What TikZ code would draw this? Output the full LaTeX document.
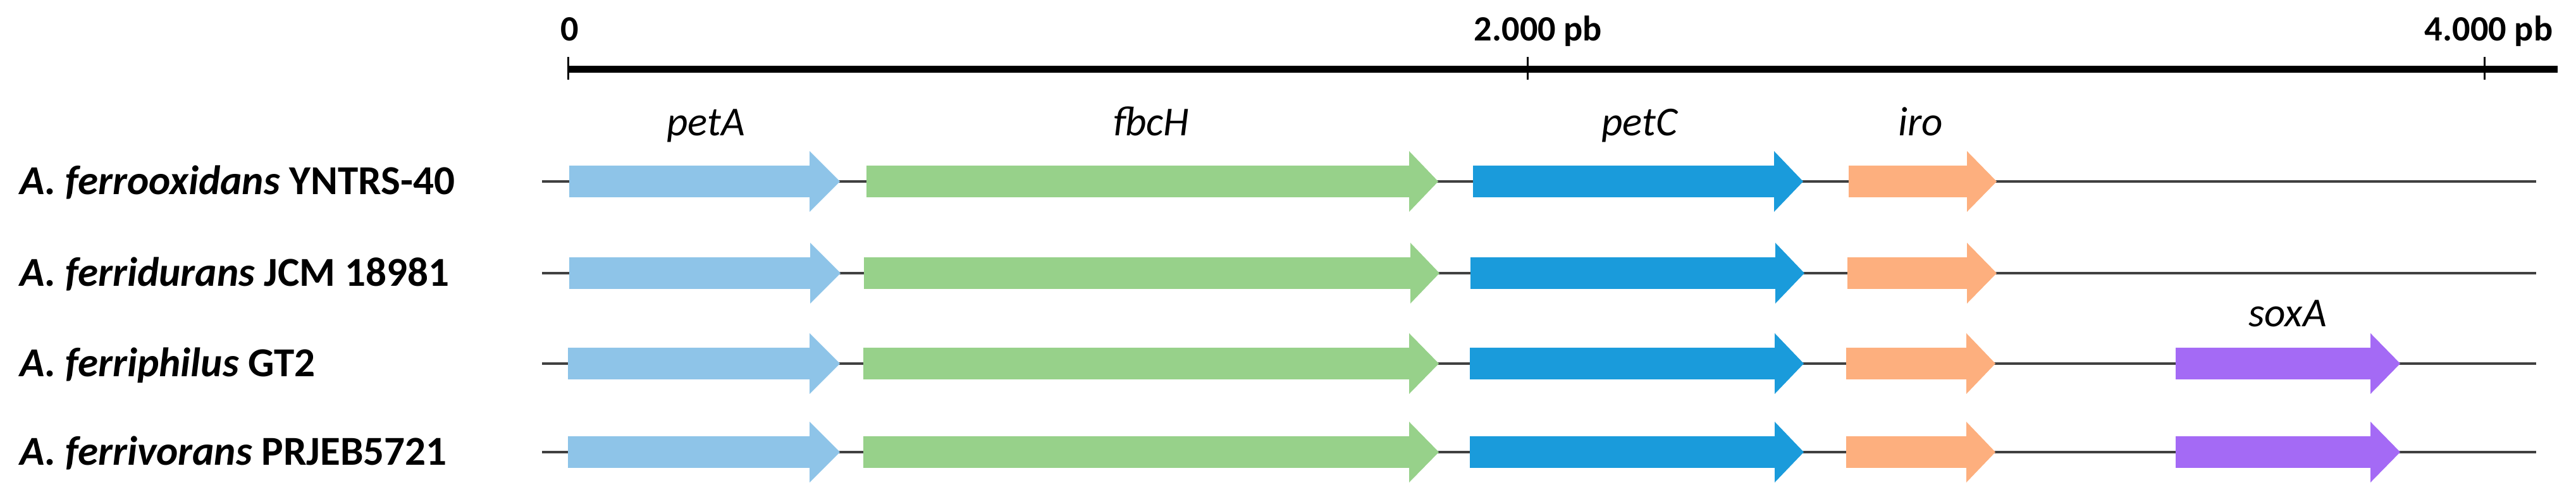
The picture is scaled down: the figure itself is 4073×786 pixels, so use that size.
\documentclass[tikz,border=0pt]{standalone}
\usepackage{fontspec}
\setmainfont{Carlito}
\definecolor{cpetA}{HTML}{8EC4E8}
\definecolor{cfbcH}{HTML}{97D18A}
\definecolor{cpetC}{HTML}{1A9BDB}
\definecolor{ciro}{HTML}{FDAF7E}
\definecolor{csoxA}{HTML}{A46AF5}
\definecolor{cline}{HTML}{404040}
\newcommand{\genearr}[5]{% x0, xbase, xtip, y, colour
  \fill[#5] (#1,#4-25) -- (#2,#4-25) -- (#2,#4-48) -- (#3,#4) -- (#2,#4+48) -- (#2,#4+25) -- (#1,#4+25) -- cycle;}
\begin{document}
\begin{tikzpicture}[x=0.01cm,y=-0.01cm,
  rowlabel/.style={anchor=base west,inner sep=0pt,font=\fontsize{18.5}{22}\selectfont\bfseries},
  genelabel/.style={anchor=base,inner sep=0pt,font=\fontsize{18.5}{22}\selectfont\itshape},
  scalelabel/.style={anchor=base,inner sep=0pt,font=\fontsize{16}{19}\selectfont\bfseries},
  backbone/.style={draw=cline,line width=1pt},
  scalebar/.style={line width=3.1pt},
  scaletick/.style={line width=0.85pt}]
\useasboundingbox (0,0) rectangle (4073,786);
% scale bar
\coordinate (s0) at (898,109.5);
\coordinate (send) at (4044,109.5);
\draw[scalebar] (s0) -- (send);
\coordinate (t0a) at (898,90); \coordinate (t0b) at (898,126);
\coordinate (t2a) at (2415,90); \coordinate (t2b) at (2415,126);
\coordinate (t4a) at (3928,90); \coordinate (t4b) at (3928,126);
\draw[scaletick] (t0a) -- (t0b);
\draw[scaletick] (t2a) -- (t2b);
\draw[scaletick] (t4a) -- (t4b);
\node[scalelabel] (l0) at (901,65) {0};
\node[scalelabel] (l2) at (2432,65) {2.000 pb};
\node[scalelabel] (l4) at (3935,65) {4.000 pb};
% backbones
\foreach \y/\n in {287/1,432/2,575/3,715/4}{
  \coordinate (b\n a) at (857,\y);
  \coordinate (b\n b) at (4010,\y);
  \draw[backbone] (b\n a) -- (b\n b);
}
% row 1
\genearr{900}{1280}{1328}{287}{cpetA}
\genearr{1370}{2228}{2274}{287}{cfbcH}
\genearr{2329}{2805}{2851}{287}{cpetC}
\genearr{2923}{3110}{3157}{287}{ciro}
% row 2
\genearr{900}{1281}{1329}{432}{cpetA}
\genearr{1366}{2230}{2276}{432}{cfbcH}
\genearr{2325}{2807}{2853}{432}{cpetC}
\genearr{2921}{3110}{3157}{432}{ciro}
% row 3
\genearr{898}{1280}{1328}{575}{cpetA}
\genearr{1365}{2228}{2275}{575}{cfbcH}
\genearr{2324}{2806}{2852}{575}{cpetC}
\genearr{2919}{3109}{3155}{575}{ciro}
\genearr{3440}{3748}{3795}{575}{csoxA}
% row 4
\genearr{898}{1280}{1328}{715}{cpetA}
\genearr{1365}{2228}{2275}{715}{cfbcH}
\genearr{2324}{2806}{2852}{715}{cpetC}
\genearr{2919}{3109}{3155}{715}{ciro}
\genearr{3440}{3748}{3795}{715}{csoxA}
% gene labels
\node[genelabel] (gpetA) at (1116,215) {petA};
\node[genelabel] (gfbcH) at (1820,215) {fbcH};
\node[genelabel] (gpetC) at (2592,215) {petC};
\node[genelabel] (giro) at (3037,215) {iro};
\node[genelabel] (gsoxA) at (3617,517) {soxA};
% row labels
\node[rowlabel] (r1) at (31,308) {\itshape A. ferrooxidans\upshape{} YNTRS-40};
\node[rowlabel] (r2) at (31,453) {\itshape A. ferridurans\upshape{} JCM 18981};
\node[rowlabel] (r3) at (31,596) {\itshape A. ferriphilus\upshape{} GT2};
\node[rowlabel] (r4) at (31,736) {\itshape A. ferrivorans\upshape{} PRJEB5721};
\end{tikzpicture}
\end{document}
